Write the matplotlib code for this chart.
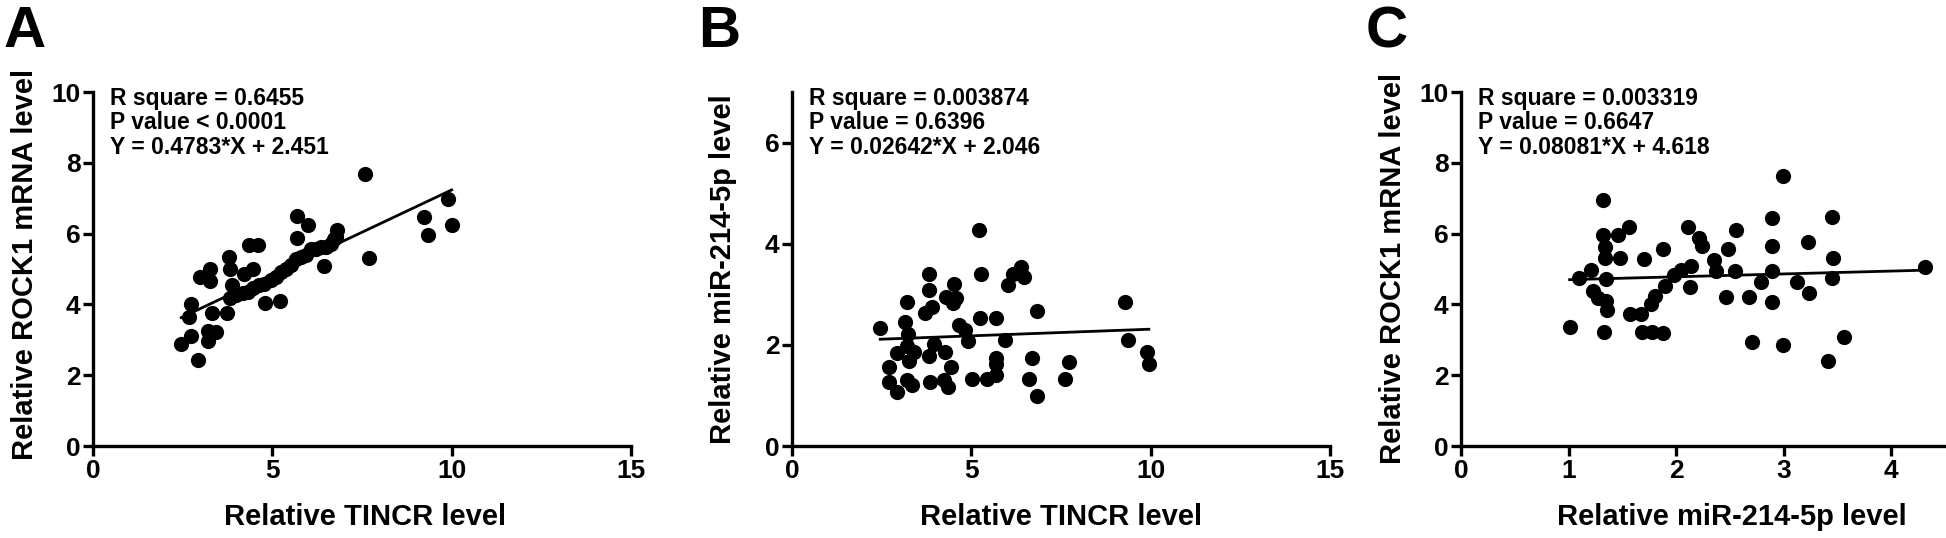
import matplotlib
matplotlib.use("Agg")
from matplotlib import pyplot as plt
import numpy as np

# Panel A: TINCR vs ROCK1
a_x = [7.57, 9.89, 10.0, 9.24, 9.35, 7.69, 5.68, 6.0, 5.68, 6.81, 6.78, 6.45,
       4.35, 4.6, 3.79, 3.83, 4.22, 4.46, 3.27, 2.97, 3.25, 3.88, 4.79, 5.22,
       2.72, 2.67, 3.31, 3.73, 2.46, 2.74, 2.92, 3.2, 3.44, 3.2,
       3.81, 3.99, 4.18, 4.32, 4.46, 4.64, 4.78, 4.97, 5.11, 5.25, 5.39, 5.52,
       5.66, 5.80, 5.94, 6.08, 6.22, 6.36, 6.50, 6.64, 6.73]
a_y = [7.67, 6.99, 6.24, 6.48, 5.97, 5.32, 6.49, 6.23, 5.88, 6.11, 5.9, 5.09,
       5.67, 5.67, 5.34, 4.99, 4.87, 4.99, 5.01, 4.78, 4.67, 4.55, 4.04, 4.11,
       4.0, 3.64, 3.76, 3.77, 2.89, 3.12, 2.43, 3.24, 3.22, 2.96,
       4.18, 4.27, 4.31, 4.36, 4.45, 4.55, 4.59, 4.69, 4.78, 4.92, 5.01, 5.11,
       5.29, 5.34, 5.39, 5.57, 5.57, 5.62, 5.62, 5.71, 5.85]

# Panel B: TINCR vs miR-214-5p
b_x = [2.46, 2.71, 2.71, 2.93, 2.94, 3.16, 3.22, 3.24, 3.22, 3.27, 3.41, 3.22,
       3.34, 3.71, 3.90, 3.82, 3.82, 3.82, 3.97, 3.86, 4.27, 4.30, 4.53, 4.58,
       4.49, 4.67, 4.81, 4.91, 4.42, 4.25, 4.36, 5.02, 5.26, 5.23, 5.45, 5.70,
       5.70, 5.70, 5.70, 5.93, 6.01, 6.17, 6.38, 6.48, 6.70, 6.62, 6.82, 6.82,
       7.60, 7.71, 9.28, 9.37, 9.91, 9.95, 5.21]
b_y = [2.34, 1.56, 1.27, 1.06, 1.84, 2.45, 2.84, 2.21, 1.98, 1.69, 1.85, 1.30,
       1.21, 2.63, 2.74, 3.08, 3.40, 1.77, 2.01, 1.27, 1.85, 2.95, 3.21, 2.92,
       2.82, 2.40, 2.30, 2.08, 1.56, 1.30, 1.17, 1.32, 3.41, 2.53, 1.32, 2.53,
       1.75, 1.63, 1.41, 2.10, 3.19, 3.41, 3.53, 3.35, 1.75, 1.32, 0.98, 2.66,
       1.32, 1.66, 2.85, 2.10, 1.85, 1.63, 4.28]

# Panel C: miR-214-5p vs ROCK1
c_x = [1.01, 1.10, 1.21, 1.23, 1.27, 1.32, 1.32, 1.34, 1.34, 1.35, 1.35, 1.36,
       1.33, 1.46, 1.48, 1.56, 1.57, 1.67, 1.70, 1.68, 1.78, 1.88, 1.77, 1.80,
       1.88, 1.90, 1.98, 2.05, 2.11, 2.14, 2.13, 2.21, 2.24, 2.35, 2.37, 2.46,
       2.48, 2.56, 2.55, 2.68, 2.71, 2.79, 2.89, 2.89, 2.89, 2.89, 2.99, 2.99,
       3.12, 3.23, 3.24, 3.41, 3.45, 3.46, 3.45, 3.56, 4.31]
c_y = [3.36, 4.75, 4.98, 4.37, 4.19, 6.96, 5.96, 5.62, 5.31, 4.72, 4.09, 3.84,
       3.21, 5.96, 5.31, 6.20, 3.74, 3.74, 5.28, 3.21, 3.21, 3.19, 4.0, 4.23,
       5.57, 4.53, 4.84, 4.98, 6.20, 5.09, 4.49, 5.87, 5.64, 5.26, 4.93, 4.21,
       5.56, 6.10, 4.95, 4.21, 2.94, 4.63, 6.45, 5.64, 4.93, 4.07, 7.64, 2.86,
       4.63, 5.75, 4.31, 2.40, 6.48, 5.31, 4.75, 3.09, 5.06]

# regression results printed on each panel
slopes = [0.4783, 0.02642, 0.08081]
intercepts = [2.451, 2.046, 4.618]
stats_text = [
    "R square = 0.6455\nP value < 0.0001\nY = 0.4783*X + 2.451",
    "R square = 0.003874\nP value = 0.6396\nY = 0.02642*X + 2.046",
    "R square = 0.003319\nP value = 0.6647\nY = 0.08081*X + 4.618",
]
xlabels = ["Relative TINCR level", "Relative TINCR level", "Relative miR-214-5p level"]
ylabels = ["Relative ROCK1 mRNA level", "Relative miR-214-5p level", "Relative ROCK1 mRNA level"]
letters = ["A", "B", "C"]
xlims = [(0, 15), (0, 15), (0, 4.5)]
xticks = [[0, 5, 10, 15], [0, 5, 10, 15], [0, 1, 2, 3, 4]]
ylims = [(0, 10), (0, 7), (0, 10)]
yticks = [[0, 2, 4, 6, 8, 10], [0, 2, 4, 6], [0, 2, 4, 6, 8, 10]]

W, H = 1946, 538
font = ["Liberation Sans", "DejaVu Sans"]

fig = plt.figure(figsize=(W / 100, H / 100), dpi=100)

# layout in pixels (from top-left)
boxes = [(93, 631, 92, 446), (792, 1330, 92, 446), (1461, 1945, 92, 446)]  # l, r, t, b
letter_x = [4, 698, 1366]
ylabel_base = [33, 731, 1401]
ylabel_cy = [264, 269, 268]
xlabel_cx = [365, 1061, 1732]


def fx(px):
    return px / W


def fy(py):
    return 1 - py / H


data = [(a_x, a_y), (b_x, b_y), (c_x, c_y)]

for i in range(3):
    l, r, t, b = boxes[i]
    ax = fig.add_axes([fx(l), fy(b), (r - l) / W, (b - t) / H])
    xs, ys = data[i]
    ax.scatter(xs, ys, s=120, color="black", zorder=3, linewidths=0)
    xx = np.array([min(xs), max(xs)])
    ax.plot(xx, slopes[i] * xx + intercepts[i], color="black", lw=2.0, zorder=2)

    ax.set_xlim(*xlims[i])
    ax.set_ylim(*ylims[i])
    ax.set_xticks(xticks[i])
    ax.set_yticks(yticks[i])
    for s in ["top", "right"]:
        ax.spines[s].set_visible(False)
    for s in ["left", "bottom"]:
        ax.spines[s].set_linewidth(2.4)
    ax.tick_params(width=2.4, length=7, direction="out")
    ax.tick_params(axis="x", pad=2)
    ax.tick_params(axis="y", pad=2)
    for lab in ax.get_xticklabels() + ax.get_yticklabels():
        lab.set_fontfamily(font)
        lab.set_fontweight("bold")
        lab.set_fontsize(19)

    # regression stats in the upper left corner
    fig.text(fx(l + 17), fy(87), stats_text[i], va="top", ha="left",
             fontsize=16.5, fontweight="bold", family=font, linespacing=1.08)

    fig.text(fx(xlabel_cx[i]), fy(525), xlabels[i], ha="center", va="baseline",
             fontsize=21, fontweight="bold", family=font)
    fig.text(fx(ylabel_base[i]), fy(ylabel_cy[i]), ylabels[i], rotation=90,
             rotation_mode="anchor", ha="center", va="baseline",
             fontsize=21, fontweight="bold", family=font)

    fig.text(fx(letter_x[i]), fy(47), letters[i], fontsize=42, fontweight="bold",
             family=font, va="baseline", ha="left")

fig.savefig("out.png", dpi=100)
